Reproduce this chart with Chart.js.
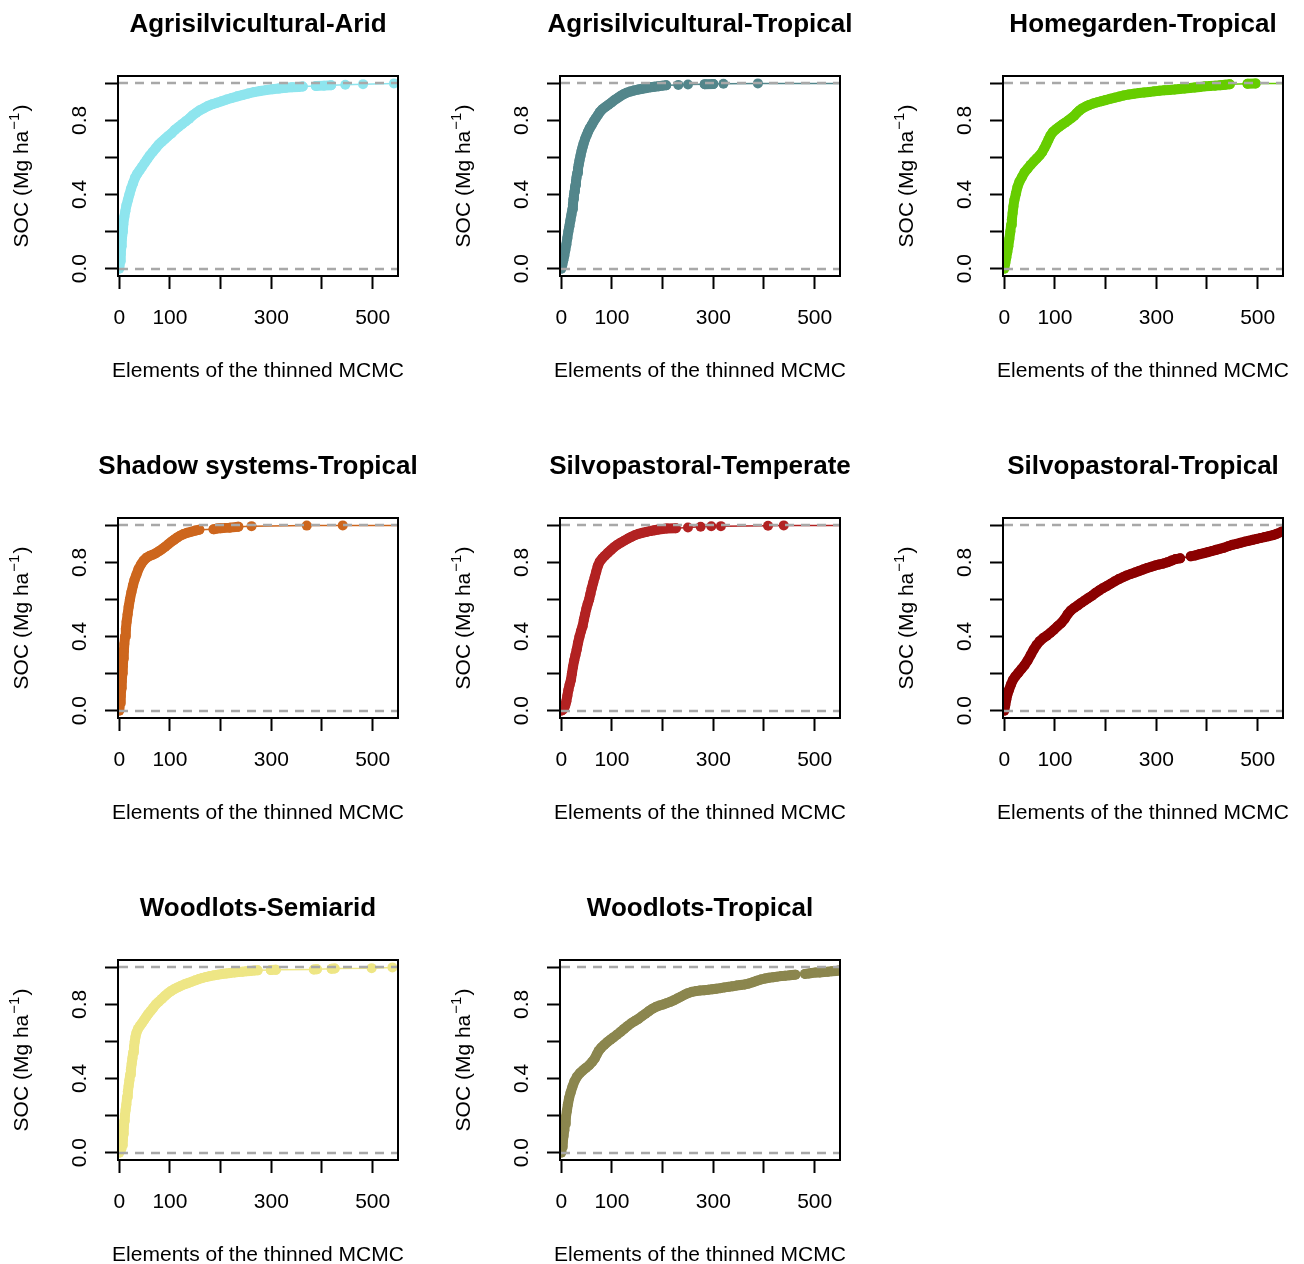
<!DOCTYPE html>
<html><head><meta charset="utf-8">
<script src="https://cdn.jsdelivr.net/npm/chart.js@4.4.0/dist/chart.umd.min.js"></script>
<style>
html,body{margin:0;padding:0;background:#fff;width:1304px;height:1264px;overflow:hidden;}
.cell{position:absolute;width:442px;height:442px;}
canvas{display:block;}
</style></head><body>
<script>
// ---------- axis ticks ----------
const X_TICKS = [0, 100, 200, 300, 400, 500];
const X_TICK_LABELS = ['0', '100', '', '300', '', '500'];
const Y_TICKS = [0, 0.2, 0.4, 0.6, 0.8, 1.0];
const Y_TICK_LABELS = ['0.0', '', '0.4', '', '0.8', ''];
const X_MIN = -2.5, X_MAX = 550, Y_MIN = -0.04, Y_MAX = 1.04;
const REF_LINES = [0, 1];
const X_TITLE = 'Elements of the thinned MCMC';

// ---------- panels ----------
const titles = ['Agrisilvicultural-Arid', 'Agrisilvicultural-Tropical', 'Homegarden-Tropical',
  'Shadow systems-Tropical', 'Silvopastoral-Temperate', 'Silvopastoral-Tropical',
  'Woodlots-Semiarid', 'Woodlots-Tropical'];
const colors = ['#8EE5EE', '#53868B', '#66CD00', '#CD661D', '#B22222', '#8B0000', '#EEE685', '#8B864E'];

// ---------- series: [element, SOC] ----------
const aridPts = [[0,0],[2,0.04],[3,0.08],[4,0.12],[5,0.16],[7,0.2],[8,0.24],[10,0.28],[12,0.31],[14,0.34],[17,0.37],[20,0.4],[23,0.43],[27,0.46],[31,0.49],[35,0.51],[40,0.53],[45,0.55],[50,0.57],[55,0.59],[60,0.61],[66,0.63],[72,0.65],[78,0.67],[84,0.685],[90,0.7],[96,0.715],[103,0.73],[110,0.75],[117,0.765],[124,0.78],[131,0.795],[138,0.81],[145,0.828],[152,0.842],[159,0.855],[167,0.866],[175,0.878],[184,0.888],[193,0.896],[202,0.904],[212,0.913],[222,0.921],[233,0.93],[244,0.938],[255,0.946],[266,0.953],[278,0.959],[290,0.964],[302,0.968],[315,0.972],[328,0.976],[341,0.979],[354,0.981],[362,0.983],[388,0.986],[404,0.988],[418,0.99],[446,0.993],[481,0.996],[542,1.0]];
const agriTropPts = [[0,0],[2,0.02],[4,0.045],[6,0.07],[8,0.1],[10,0.13],[12,0.165],[14,0.2],[16,0.228],[18,0.26],[20,0.29],[22,0.32],[23,0.345],[24,0.375],[25,0.395],[26,0.415],[27,0.435],[28,0.45],[29,0.47],[30,0.49],[31.5,0.515],[33,0.54],[34.5,0.562],[36,0.585],[38,0.61],[40,0.635],[42,0.655],[44,0.675],[47,0.7],[50,0.72],[53,0.74],[56,0.757],[60,0.775],[64,0.795],[68,0.812],[72,0.828],[76,0.845],[81,0.86],[87,0.873],[93,0.885],[99,0.897],[105,0.91],[111,0.921],[117,0.932],[123,0.942],[129,0.95],[136,0.956],[144,0.962],[152,0.967],[160,0.971],[168,0.975],[176,0.979],[184,0.982],[192,0.985],[200,0.988],[207,0.99],[231,0.992],[250,0.994],[283,0.996],[300,0.997],[320,0.998],[388,1.0]];
const homeTropPts = [[0,0],[2,0.03],[4,0.06],[6,0.09],[8,0.12],[10,0.16],[12,0.2],[13.5,0.235],[15,0.265],[16.5,0.3],[18,0.335],[20,0.37],[23,0.405],[26,0.44],[30,0.47],[35,0.495],[40,0.52],[46,0.54],[52,0.56],[58,0.578],[64,0.595],[70,0.612],[75,0.63],[79,0.65],[83,0.672],[87,0.695],[91,0.718],[96,0.738],[102,0.752],[108,0.765],[114,0.777],[120,0.788],[126,0.8],[132,0.812],[138,0.825],[143,0.84],[148,0.853],[154,0.865],[161,0.875],[168,0.884],[176,0.892],[184,0.898],[192,0.904],[200,0.91],[209,0.917],[218,0.923],[227,0.929],[236,0.935],[246,0.94],[256,0.944],[266,0.948],[276,0.951],[286,0.954],[296,0.957],[306,0.96],[316,0.963],[326,0.965],[336,0.967],[346,0.97],[356,0.973],[366,0.975],[376,0.978],[386,0.981],[396,0.984],[406,0.986],[416,0.988],[426,0.99],[436,0.993],[445,0.995],[480,0.998],[496,1.0]];
const shadowTropPts = [[0,0],[1.5,0.04],[3,0.08],[4,0.12],[5,0.16],[6,0.2],[7,0.24],[8,0.28],[9,0.32],[10,0.36],[11.5,0.4],[13,0.44],[14.5,0.48],[16.5,0.52],[18.5,0.56],[21,0.6],[24,0.64],[27,0.675],[30,0.705],[34,0.735],[38,0.765],[43,0.79],[48,0.81],[54,0.826],[60,0.835],[66,0.842],[72,0.85],[78,0.86],[84,0.871],[90,0.883],[96,0.897],[102,0.91],[108,0.922],[114,0.934],[120,0.944],[127,0.953],[134,0.96],[142,0.966],[150,0.972],[158,0.977],[186,0.979],[193,0.983],[200,0.985],[218,0.988],[235,0.993],[261,0.996],[370,0.999],[441,1.0]];
const silvoTempPts = [[0,0],[3,0.005],[6,0.015],[8,0.03],[10,0.05],[12,0.08],[14,0.11],[16.5,0.14],[19,0.165],[21,0.2],[23,0.235],[25.5,0.27],[28,0.3],[30.5,0.33],[33,0.365],[36,0.4],[39,0.43],[42,0.455],[44.5,0.49],[47,0.52],[49.5,0.55],[52,0.575],[55,0.6],[57.5,0.63],[60,0.66],[63,0.69],[66,0.72],[69,0.75],[72,0.78],[76,0.805],[81,0.822],[86,0.836],[92,0.852],[98,0.867],[104,0.882],[110,0.894],[117,0.906],[124,0.917],[131,0.928],[138,0.938],[145,0.947],[152,0.954],[160,0.96],[168,0.965],[176,0.97],[184,0.974],[192,0.978],[200,0.981],[208,0.983],[226,0.985],[250,0.989],[275,0.993],[296,0.995],[315,0.996],[408,0.998],[439,1.0]];
const silvoTropPts = [[0,0],[2,0.03],[4,0.06],[6,0.085],[9,0.11],[13,0.14],[17,0.165],[22,0.185],[28,0.205],[34,0.225],[40,0.245],[46,0.27],[52,0.3],[58,0.33],[64,0.355],[70,0.375],[77,0.392],[84,0.405],[91,0.42],[98,0.437],[105,0.455],[112,0.472],[119,0.495],[125,0.52],[131,0.54],[138,0.555],[145,0.568],[152,0.582],[159,0.595],[166,0.608],[173,0.62],[180,0.635],[187,0.648],[194,0.66],[202,0.672],[210,0.685],[218,0.698],[226,0.71],[234,0.72],[242,0.73],[250,0.738],[258,0.746],[266,0.754],[274,0.762],[282,0.77],[290,0.777],[298,0.784],[306,0.789],[314,0.794],[322,0.801],[330,0.81],[338,0.818],[347,0.822],[368,0.833],[377,0.838],[386,0.845],[394,0.85],[402,0.856],[410,0.862],[418,0.868],[426,0.874],[434,0.88],[442,0.888],[450,0.895],[458,0.9],[466,0.906],[474,0.912],[482,0.917],[490,0.922],[498,0.927],[506,0.932],[514,0.937],[522,0.942],[530,0.947],[538,0.955],[548,0.967]];
const woodSemiPts = [[0,0],[2,0.01],[4,0.02],[6,0.04],[7,0.07],[8,0.1],[9,0.14],[10,0.17],[11,0.2],[12.5,0.23],[14,0.26],[15.5,0.3],[17,0.33],[18.5,0.36],[20,0.39],[21.5,0.42],[23,0.45],[24.5,0.48],[26,0.51],[27.5,0.54],[29,0.57],[30.5,0.6],[32,0.625],[34,0.648],[37,0.668],[41,0.685],[45,0.7],[49,0.716],[53,0.732],[57,0.748],[62,0.765],[67,0.782],[72,0.8],[78,0.815],[84,0.83],[90,0.846],[96,0.86],[102,0.872],[108,0.882],[115,0.892],[122,0.901],[129,0.909],[136,0.916],[143,0.923],[150,0.93],[157,0.937],[164,0.943],[171,0.948],[179,0.953],[187,0.957],[195,0.961],[203,0.964],[211,0.967],[219,0.97],[227,0.973],[235,0.975],[243,0.977],[251,0.979],[259,0.981],[267,0.983],[273,0.984],[299,0.986],[309,0.987],[384,0.989],[390,0.99],[419,0.993],[425,0.994],[498,0.996],[539,1.0]];
const woodTropPts = [[0,0],[1.5,0.03],[3,0.06],[4.5,0.09],[6,0.12],[7.5,0.155],[9,0.19],[11,0.225],[13,0.26],[15.5,0.295],[18.5,0.325],[22,0.355],[26,0.385],[31,0.41],[37,0.43],[43,0.445],[49,0.458],[55,0.472],[61,0.49],[66,0.508],[70,0.53],[74,0.55],[79,0.567],[85,0.582],[91,0.597],[97,0.61],[103,0.622],[110,0.637],[117,0.652],[124,0.668],[131,0.684],[138,0.698],[145,0.71],[152,0.722],[159,0.736],[166,0.75],[173,0.764],[180,0.777],[187,0.787],[194,0.794],[201,0.8],[208,0.807],[215,0.814],[222,0.822],[229,0.832],[236,0.842],[243,0.852],[250,0.861],[258,0.868],[266,0.872],[274,0.875],[282,0.877],[290,0.879],[298,0.882],[306,0.885],[314,0.888],[322,0.892],[330,0.895],[338,0.898],[346,0.902],[354,0.905],[362,0.908],[370,0.913],[378,0.92],[386,0.928],[394,0.935],[402,0.94],[410,0.944],[418,0.947],[426,0.95],[434,0.953],[442,0.955],[450,0.957],[456,0.959],[462,0.961],[481,0.965],[488,0.967],[494,0.97],[502,0.972],[510,0.973],[518,0.975],[526,0.977],[534,0.979],[542,0.981],[548,0.983]];
const series = [aridPts, agriTropPts, homeTropPts, shadowTropPts, silvoTempPts, silvoTropPts, woodSemiPts, woodTropPts];

// ---------- layout / style ----------
const FONT = '"Liberation Sans", Arial, Helvetica, sans-serif';
const COL_LEFT = [0, 442, 885];
const ROW_TOP = [0, 442, 884];
const CANVAS = 442;
const PT_R = 5, BAND_W = 10, THIN_W = 1.5, JOIN_DIST = 9.5;

const decor = {
  id: 'decor',
  afterDatasetsDraw(chart) {
    const {ctx, chartArea: a, scales: {y}} = chart;
    ctx.save();
    ctx.beginPath(); ctx.rect(a.left, a.top, a.right - a.left, a.bottom - a.top); ctx.clip();
    ctx.strokeStyle = '#A8A8A8'; ctx.lineWidth = 2.3; ctx.setLineDash([9, 7]);
    REF_LINES.forEach(v => {
      const py = Math.round(y.getPixelForValue(v));
      ctx.beginPath(); ctx.moveTo(a.left + 1, py); ctx.lineTo(a.right, py); ctx.stroke();
    });
    ctx.restore();
    ctx.save();
    ctx.strokeStyle = '#000'; ctx.lineWidth = 2;
    ctx.strokeRect(a.left, a.top, a.right - a.left, a.bottom - a.top);
    ctx.restore();
  },
  afterDraw(chart) {
    const {ctx, chartArea: a} = chart;
    const cx = (a.left + a.right) / 2;
    ctx.save();
    ctx.fillStyle = '#000';
    ctx.textAlign = 'center';
    ctx.textBaseline = 'alphabetic';
    // main title
    ctx.font = 'bold 26px ' + FONT;
    ctx.fillText(chart.options.plugins.decor.title, cx, 32);
    // x-axis title
    ctx.font = '21px ' + FONT;
    ctx.fillText(X_TITLE, cx, 376.5);
    ctx.restore();
    // y-axis title with superscript
    ctx.save();
    ctx.translate(22.5, (a.top + a.bottom) / 2);
    ctx.rotate(-Math.PI / 2);
    ctx.fillStyle = '#000';
    ctx.textBaseline = 'middle';
    ctx.textAlign = 'left';
    const mainF = '21px ' + FONT, supF = '15px ' + FONT;
    const t1 = 'SOC (Mg ha', t2 = '\u22121', t3 = ')';
    ctx.font = mainF; const w1 = ctx.measureText(t1).width, w3 = ctx.measureText(t3).width;
    ctx.font = supF; const w2 = ctx.measureText(t2).width;
    let x = -(w1 + w2 + w3 + 2) / 2;
    ctx.font = mainF; ctx.fillText(t1, x, 0); x += w1 + 1;
    ctx.font = supF; ctx.fillText(t2, x, -8); x += w2 + 1;
    ctx.font = mainF; ctx.fillText(t3, x, 0);
    ctx.restore();
  }
};

series.forEach((pts, i) => {
  const cell = document.createElement('div');
  cell.className = 'cell';
  cell.style.left = COL_LEFT[i % 3] + 'px';
  cell.style.top = ROW_TOP[Math.floor(i / 3)] + 'px';
  const cv = document.createElement('canvas');
  cv.width = CANVAS; cv.height = CANVAS;
  cell.appendChild(cv);
  document.body.appendChild(cell);

  const data = pts.map(p => ({x: p[0], y: p[1]}));
  const n = data.length;
  const last = data[n - 1];
  if (last.x < X_MAX) data.push({x: X_MAX, y: last.y}); // ecdf step continues to the plot edge

  new Chart(cv, {
    type: 'line',
    data: {datasets: [{
      data,
      borderColor: colors[i],
      backgroundColor: colors[i],
      pointBackgroundColor: colors[i],
      pointBorderColor: colors[i],
      pointBorderWidth: 0,
      pointRadius: ctx => ctx.dataIndex < n ? PT_R : 0,
      borderWidth: THIN_W,
      borderCapStyle: 'round',
      borderJoinStyle: 'round',
      tension: 0,
      segment: {
        borderWidth: ctx => (ctx.p1DataIndex < n &&
          Math.hypot(ctx.p1.x - ctx.p0.x, ctx.p1.y - ctx.p0.y) <= JOIN_DIST) ? BAND_W : THIN_W
      }
    }]},
    options: {
      responsive: false,
      animation: false,
      devicePixelRatio: 1,
      layout: {padding: {left: 0, right: 44, top: 76, bottom: 0}, autoPadding: false},
      plugins: {
        legend: {display: false},
        tooltip: {enabled: false},
        title: {display: false},
        decor: {title: titles[i]}
      },
      scales: {
        x: {
          type: 'linear', min: X_MIN, max: X_MAX,
          afterBuildTicks: s => { s.ticks = X_TICKS.map(v => ({value: v})); },
          afterFit: s => { s.height = 166; },
          grid: {drawOnChartArea: false, drawTicks: true, tickLength: 13, tickWidth: 2, tickColor: '#000'},
          border: {display: false},
          ticks: {autoSkip: false, maxRotation: 0, minRotation: 0, padding: 16.5, color: '#000',
            font: {family: FONT, size: 21},
            callback: v => X_TICK_LABELS[X_TICKS.indexOf(v)]},
          title: {display: false}
        },
        y: {
          type: 'linear', min: Y_MIN, max: Y_MAX,
          afterBuildTicks: s => { s.ticks = Y_TICKS.map(v => ({value: v})); },
          afterFit: s => { s.width = 118; },
          grid: {drawOnChartArea: false, drawTicks: true, tickLength: 13, tickWidth: 2, tickColor: '#000'},
          border: {display: false},
          ticks: {autoSkip: false, minRotation: 90, maxRotation: 90, crossAlign: 'center', padding: 10,
            color: '#000', font: {family: FONT, size: 21},
            callback: v => Y_TICK_LABELS[Y_TICKS.indexOf(v)]}
        }
      }
    },
    plugins: [decor]
  });
});
</script>
</body></html>
